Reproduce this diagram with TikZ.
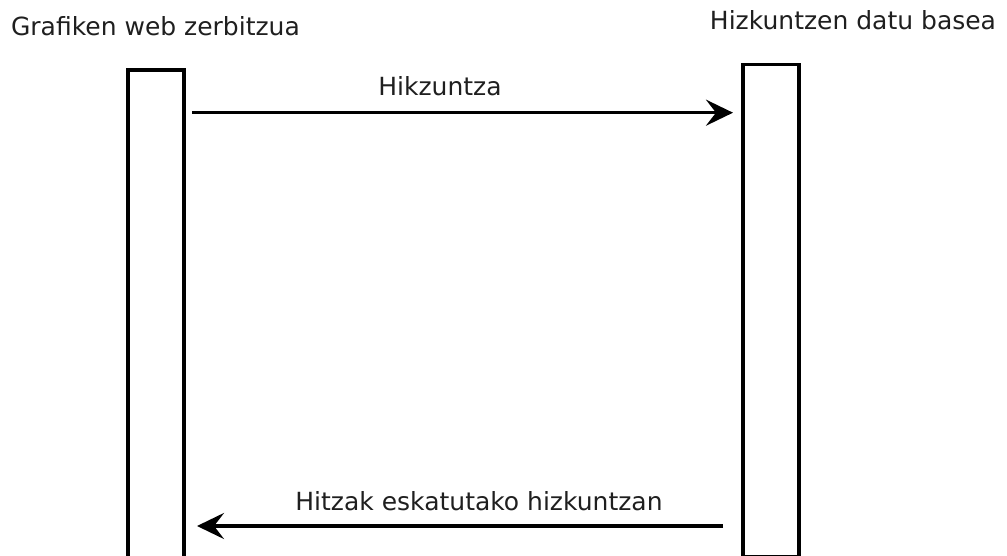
\documentclass[tikz,border=0pt]{standalone}
\usepackage{fontspec}
\setmainfont{DejaVu Sans}
\usetikzlibrary{arrows.meta}
\begin{document}
\begin{tikzpicture}[x=1bp,y=-1bp,
  lifeline/.style={draw=black,line width=3.5bp,fill=white,inner sep=0pt},
  msg/.style={draw=black,line width=3.5bp,-{Stealth[length=27bp,width=26bp,inset=10bp]}},
  lbl/.style={inner sep=0pt,font=\fontsize{25bp}{30bp}\selectfont,text=black!88}]
\useasboundingbox (0,0) rectangle (1007,556);
\clip (0,0) rectangle (1007,556);
% lifeline boxes
\node[lifeline,minimum width=56bp,minimum height=500bp,anchor=north west] (lb) at (126,68.5) {};
\node[lifeline,minimum width=56bp,minimum height=491.5bp,anchor=north west] (rb) at (741,63) {};
% titles
\node[lbl,anchor=base] (lt) at (155.5,36) {Grafiken web zerbitzua};
\node[lbl,anchor=base] (rt) at (853,30) {Hizkuntzen datu basea};
% message endpoints
\coordinate (m1s) at (192,112.7);
\coordinate (m1e) at (733,112.7);
\coordinate (m2s) at (723,526);
\coordinate (m2e) at (197,526);
\draw[msg] (m1s) -- (m1e);
\draw[msg] (m2s) -- (m2e);
% message labels
\node[lbl,anchor=base] (l1) at (440,96) {Hikzuntza};
\node[lbl,anchor=base] (l2) at (479,510) {Hitzak eskatutako hizkuntzan};
\end{tikzpicture}
\end{document}
